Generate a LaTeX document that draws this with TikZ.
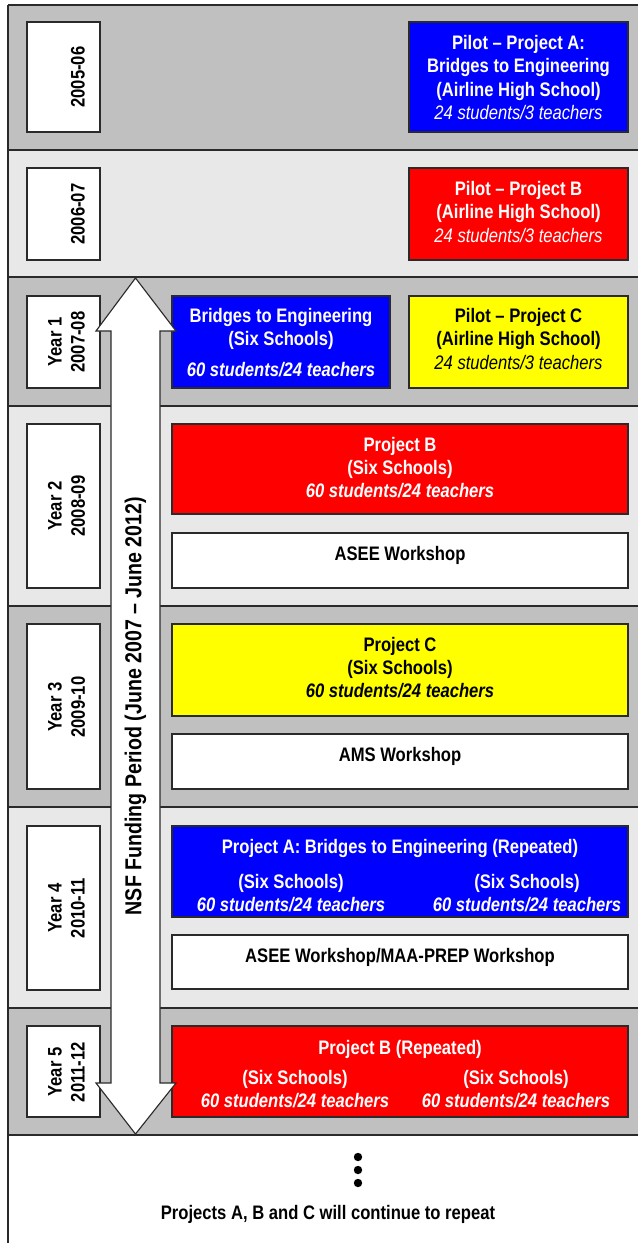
\documentclass[tikz,border=0pt]{standalone}
\usepackage{fontspec}
\setmainfont{Liberation Sans}[FakeStretch=0.85]
\usetikzlibrary{fit}
\definecolor{banddark}{HTML}{C0C0C0}
\definecolor{bandlight}{HTML}{E8E8E8}
\definecolor{edge}{HTML}{2A2A2A}
\definecolor{pblue}{HTML}{0000FF}
\definecolor{pred}{HTML}{FF0000}
\definecolor{pyellow}{HTML}{FFFF00}
\begin{document}
\begin{tikzpicture}[x=0.025cm,y=-0.025cm,
    pbox/.style={draw=edge,line width=0.8pt,inner sep=0pt},
    yr/.style={pbox,fill=white},
    sep/.style={draw=edge,line width=1.3pt}]
    \tikzstyle{lbl}=[inner sep=0pt,align=center,font=\fontsize{13.9}{16.4}\selectfont\bfseries]
    \useasboundingbox (0,0) rectangle (638,1243);

    % bands
    \fill[banddark] (8,5) rectangle (638,150);
    \fill[bandlight] (8,150) rectangle (638,277);
    \fill[banddark] (8,277) rectangle (638,406);
    \fill[bandlight] (8,406) rectangle (638,606);
    \fill[banddark] (8,606) rectangle (638,807);
    \fill[bandlight] (8,807) rectangle (638,1008);
    \fill[banddark] (8,1008) rectangle (638,1135);
    \draw[sep] (8,5) -- (638,5);
    \draw[sep] (8,150) -- (638,150);
    \draw[sep] (8,277) -- (638,277);
    \draw[sep] (8,406) -- (638,406);
    \draw[sep] (8,606) -- (638,606);
    \draw[sep] (8,807) -- (638,807);
    \draw[sep] (8,1008) -- (638,1008);
    \draw[sep] (8,1135) -- (638,1135);
    \draw[sep] (8,5) -- (8,1243);

    % year boxes
    \node[yr, fit={(27,22) (100,132)}] (y0) {};
    \node[yr, fit={(27,168) (100,260)}] (y1) {};
    \node[yr, fit={(27,296) (100,388)}] (y2) {};
    \node[yr, fit={(27,424) (100,588)}] (y3) {};
    \node[yr, fit={(27,624) (100,789)}] (y4) {};
    \node[yr, fit={(27,826) (100,990)}] (y5) {};
    \node[yr, fit={(27,1026) (100,1117)}] (y6) {};
    \node[lbl, rotate=90] (y0t) at (78,77) {2005-06};
    \node[lbl, rotate=90] (y1t) at (78,214) {2006-07};
    \node[lbl, rotate=90] (y2t) at (66.5,342) {Year 1\\2007-08};
    \node[lbl, rotate=90] (y3t) at (66.5,506) {Year 2\\2008-09};
    \node[lbl, rotate=90] (y4t) at (66.5,707) {Year 3\\2009-10};
    \node[lbl, rotate=90] (y5t) at (66.5,908) {Year 4\\2010-11};
    \node[lbl, rotate=90] (y6t) at (66.5,1072) {Year 5\\2011-12};

    % projects
    \node[pbox, fill=pblue, fit={(409,22) (628,132)}] (pilotA) {};
    \node[lbl, text=white] (pilotAt) at (518.5,77.5)
        {Pilot -- Project A:\\Bridges to Engineering\\(Airline High School)\\\textit{\mdseries 24 students/3 teachers}};
    \node[pbox, fill=pred, fit={(409,168) (628,260)}] (pilotB) {};
    \node[lbl, text=white] (pilotBt) at (518.5,212)
        {Pilot -- Project B\\(Airline High School)\\\textit{\mdseries 24 students/3 teachers}};
    \node[pbox, fill=pblue, fit={(172,296) (390,388)}] (bridges) {};
    \node[lbl, text=white] (bridgest) at (281,343)
        {Bridges to Engineering\\(Six Schools)\\[5.7pt]\textit{60 students/24 teachers}};
    \node[pbox, fill=pyellow, fit={(409,296) (628,388)}] (pilotC) {};
    \node[lbl] (pilotCt) at (518.5,339)
        {Pilot -- Project C\\(Airline High School)\\\textit{\mdseries 24 students/3 teachers}};
    \node[pbox, fill=pred, fit={(172,424) (628,514)}] (projB) {};
    \node[lbl, text=white] (projBt) at (400,468)
        {Project B\\(Six Schools)\\\textit{60 students/24 teachers}};
    \node[pbox, fill=white, fit={(172,533) (628,588)}] (asee) {};
    \node[lbl] (aseet) at (400,555) {ASEE Workshop};
    \node[pbox, fill=pyellow, fit={(172,624) (628,716)}] (projC) {};
    \node[lbl] (projCt) at (400,668)
        {Project C\\(Six Schools)\\\textit{60 students/24 teachers}};
    \node[pbox, fill=white, fit={(172,734) (628,789)}] (ams) {};
    \node[lbl] (amst) at (400,756) {AMS Workshop};
    \node[pbox, fill=pblue, fit={(172,826) (628,917)}] (repA) {};
    \node[lbl, text=white] (repAt) at (400,848) {Project A: Bridges to Engineering (Repeated)};
    \node[lbl, text=white] (repAl) at (291,893) {(Six Schools)\\\textit{60 students/24 teachers}};
    \node[lbl, text=white] (repAr) at (527,893) {(Six Schools)\\\textit{60 students/24 teachers}};
    \node[pbox, fill=white, fit={(172,935) (628,989)}] (maa) {};
    \node[lbl] (maat) at (400,957) {ASEE Workshop/MAA-PREP Workshop};
    \node[pbox, fill=pred, fit={(172,1026) (628,1117)}] (repB) {};
    \node[lbl, text=white] (repBt) at (400,1049) {Project B (Repeated)};
    \node[lbl, text=white] (repBl) at (295,1089.5) {(Six Schools)\\\textit{60 students/24 teachers}};
    \node[lbl, text=white] (repBr) at (516,1089.5) {(Six Schools)\\\textit{60 students/24 teachers}};

    % funding arrow
    \draw[draw=edge, line width=0.8pt, fill=white] (135.5,278) -- (176,331) -- (160,331)
        -- (160,1083) -- (176,1083) -- (135.5,1134) -- (96,1083) -- (111,1083)
        -- (111,331) -- (96,331) -- cycle;
    \node[lbl, rotate=90, font=\fontsize{16.4}{19}\selectfont\bfseries] (nsf) at (135.5,706)
        {NSF Funding Period (June 2007 -- June 2012)};

    % continues
    \fill (358,1157) circle (4.2);
    \fill (358,1170) circle (4.2);
    \fill (358,1183) circle (4.2);
    \node[lbl] (cont) at (328,1214) {Projects A, B and C will continue to repeat};
\end{tikzpicture}
\end{document}
